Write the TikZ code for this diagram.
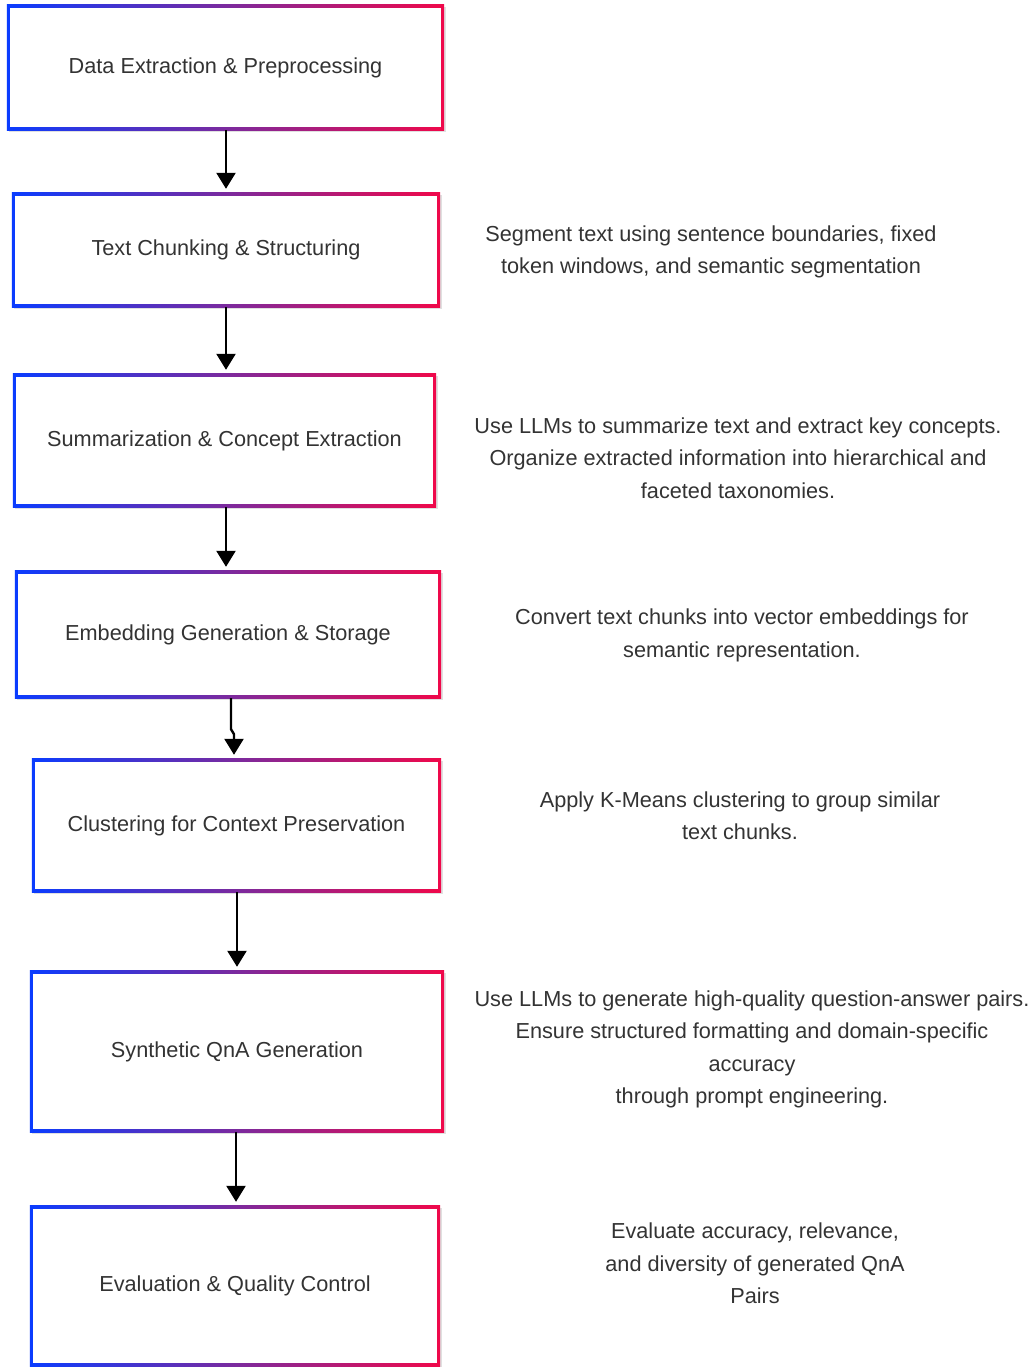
\documentclass[tikz,border=0pt]{standalone}
\usepackage{fontspec}
\setmainfont{Liberation Sans}
\usetikzlibrary{arrows.meta}
\definecolor{gblue}{HTML}{0A3CFF}
\definecolor{gred}{HTML}{F0084A}
\definecolor{gmid}{HTML}{7B2A9E}
\definecolor{txt}{HTML}{333333}
\pgfdeclarelayer{background}
\pgfsetlayers{background,main}
\begin{document}
\begin{tikzpicture}[x=1pt,y=-1pt,
  font=\fontsize{21.7}{32.5}\selectfont,
  box/.style={rectangle, draw=none, inner sep=0pt, text=txt},
  note/.style={align=center, text=txt},
  arr/.style={line width=2.4pt, shorten >=4pt, -{Triangle[width=19pt,length=16pt]}}]
\useasboundingbox (0,0) rectangle (1034,1367);

\node[box, minimum width=437pt, minimum height=125pt] (b1) at (225.5,67.5) {Data Extraction \& Preprocessing};
\node[box, minimum width=428pt, minimum height=114pt] (b2) at (226,250) {Text Chunking \& Structuring};
\node[box, minimum width=423pt, minimum height=133pt] (b3) at (224.5,440.5) {Summarization \& Concept Extraction};
\node[box, minimum width=426pt, minimum height=127pt] (b4) at (228,634.5) {Embedding Generation \& Storage};
\node[box, minimum width=409pt, minimum height=133pt] (b5) at (236.5,825.5) {Clustering for Context Preservation};
\node[box, minimum width=414pt, minimum height=161pt] (b6) at (237,1051.5) {Synthetic QnA Generation};
\node[box, minimum width=410pt, minimum height=160pt] (b7) at (235,1286) {Evaluation \& Quality Control};

\begin{pgfonlayer}{background}
\fill[white] (0,0) rectangle (1034,1367);
\foreach \n in {b1,b2,b3,b4,b5,b6,b7}{
  \fill[black!12] ([shift={(2,2)}]\n.north west) rectangle ([shift={(2,2)}]\n.south east);
  \shade[left color=gblue, right color=gred, middle color=gmid]
    (\n.north west) rectangle (\n.south east);
  \fill[white] ([shift={(3,3)}]\n.north west) rectangle ([shift={(-3,-3)}]\n.south east);
}
\end{pgfonlayer}

\node[note] (n2) at (711,252) {Segment text using sentence boundaries, fixed\\token windows, and semantic segmentation};
\node[note] (n3) at (738,458) {Use LLMs to summarize text and extract key concepts.\\Organize extracted information into hierarchical and\\faceted taxonomies.};
\node[note] (n4) at (742,635.5) {Convert text chunks into vector embeddings for\\semantic representation.};
\node[note] (n5) at (740,815.5) {Apply K-Means clustering to group similar\\text chunks.};
\node[note] (n6) at (752,1049.5) {Use LLMs to generate high-quality question-answer pairs.\\Ensure structured formatting and domain-specific\\accuracy\\through prompt engineering.};
\node[note] (n7) at (755,1263.5) {Evaluate accuracy, relevance,\\and diversity of generated QnA\\Pairs};

\draw[arr] ([xshift=0.5pt]b1.south) -- ([xshift=0.5pt]b1.south |- b2.north);
\draw[arr] (b2.south) -- (b2.south |- b3.north);
\draw[arr] ([xshift=1.5pt]b3.south) -- ([xshift=1.5pt]b3.south |- b4.north);
\draw[arr] ([xshift=3pt]b4.south) -- ++(0,31) -- ++(3,5) -- ([xshift=-2.5pt]b5.north);
\draw[arr] ([xshift=0.5pt]b5.south) -- ([xshift=0.5pt]b5.south |- b6.north);
\draw[arr] ([xshift=-1pt]b6.south) -- ([xshift=-1pt]b6.south |- b7.north);
\end{tikzpicture}
\end{document}
